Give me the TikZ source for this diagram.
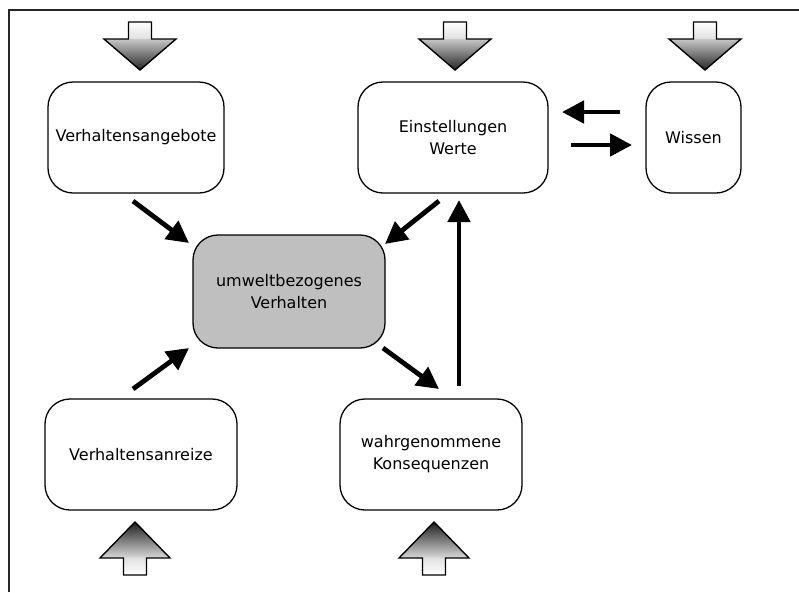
\documentclass[tikz,border=0pt]{standalone}
\usepackage{fontspec}
\setmainfont{DejaVu Sans}
\usetikzlibrary{arrows.meta}
\newcommand\blkdown[1]{%
  \fill[top color=white,bottom color=black!12] (#1-11.5,22) rectangle (#1+11.5,39);
  \shade[top color=black!22,bottom color=black!85] (#1-36,39) -- (#1+36,39) -- (#1,70) -- cycle;
  \draw[blockline] (#1-11.5,22) -- (#1+11.5,22) -- (#1+11.5,39) -- (#1+36,39) -- (#1,70) -- (#1-36,39) -- (#1-11.5,39) -- cycle;}
\newcommand\blkup[1]{%
  \fill[bottom color=white,top color=black!12] (#1-11.5,558) rectangle (#1+11.5,575);
  \shade[bottom color=black!15,top color=black!88] (#1-35,558) -- (#1+35,558) -- (#1,522) -- cycle;
  \draw[blockline] (#1-11.5,575) -- (#1+11.5,575) -- (#1+11.5,558) -- (#1+35,558) -- (#1,522) -- (#1-35,558) -- (#1-11.5,558) -- cycle;}
\begin{document}
\begin{tikzpicture}[x=1pt,y=-1pt,
  box/.style={draw=black, line width=1.3pt, rounded corners=25pt, align=center,
    font=\fontsize{16}{22}\selectfont, inner sep=0pt, fill=white},
  blockline/.style={draw=black, line width=1.4pt, line join=miter},
  conn/.style={line width=4.8pt, -{Triangle[length=22pt,width=22pt]}}]
\useasboundingbox (0,0) rectangle (799,592);
\fill[white] (0,0) rectangle (799,592);
\draw[line width=2pt, black!85] (9,592) -- (9,10) -- (799,10);

\node[box, minimum width=176pt, minimum height=111pt] (va) at (136,137.5) {Verhaltensangebote};
\node[box, minimum width=190pt, minimum height=111pt] (ew) at (453,137.5) {Einstellungen\\Werte};
\node[box, minimum width=95pt, minimum height=111pt] (wi) at (693.5,137.5) {Wissen};
\node[box, minimum width=192pt, minimum height=113pt, fill=black!25] (uv) at (289,291.5) {umweltbezogenes\\Verhalten};
\node[box, minimum width=192pt, minimum height=111pt] (vr) at (141,454.5) {Verhaltensanreize};
\node[box, minimum width=182pt, minimum height=111pt] (wk) at (431,454.5) {wahrgenommene\\Konsequenzen};

\blkdown{140}
\blkdown{455}
\blkdown{705}
\blkup{135}
\blkup{434}

\coordinate (a1s) at (133,201); \coordinate (a1e) at (189,243);
\coordinate (a2s) at (439,201); \coordinate (a2e) at (385,244);
\coordinate (a3s) at (133,389); \coordinate (a3e) at (189,348);
\coordinate (a4s) at (383,348); \coordinate (a4e) at (439,389);
\coordinate (a5s) at (459,386); \coordinate (a5e) at (459,200);
\coordinate (a6s) at (620,112); \coordinate (a6e) at (562,112);
\coordinate (a7s) at (571,145); \coordinate (a7e) at (632,145);
\draw[conn] (a1s) -- (a1e);
\draw[conn] (a2s) -- (a2e);
\draw[conn] (a3s) -- (a3e);
\draw[conn] (a4s) -- (a4e);
\draw[conn] (a5s) -- (a5e);
\draw[conn] (a6s) -- (a6e);
\draw[conn] (a7s) -- (a7e);
\end{tikzpicture}
\end{document}
